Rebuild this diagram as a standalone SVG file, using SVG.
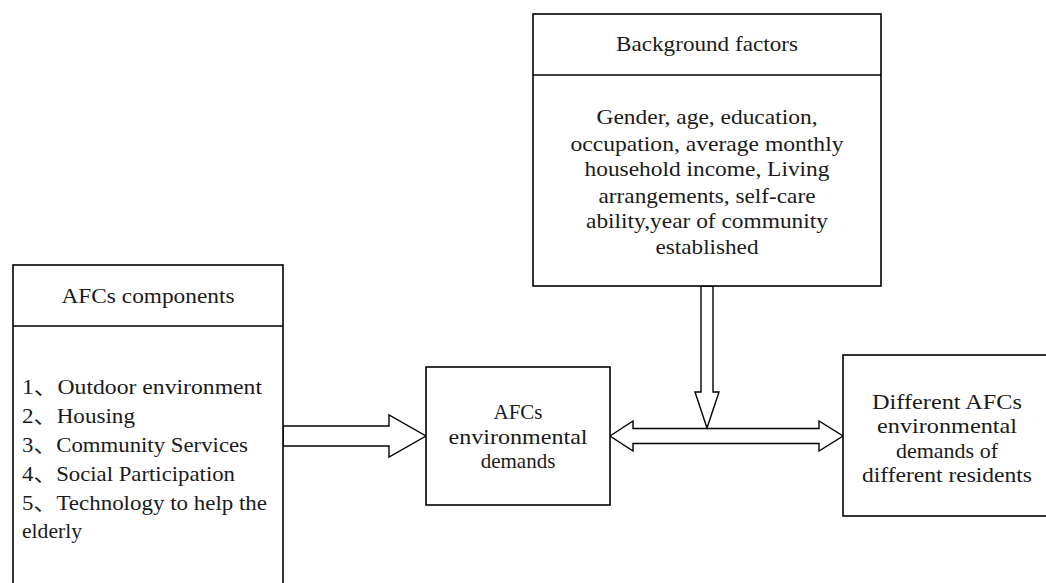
<svg xmlns="http://www.w3.org/2000/svg" width="1046" height="583" viewBox="0 0 1046 583">
<style>
.box{fill:#fff;stroke:#000;stroke-width:1.6}
.div{stroke:#000;stroke-width:1.6}
.arr{fill:#fff;stroke:#000;stroke-width:1.4;stroke-linejoin:miter}
text{font-family:"Liberation Serif","Noto Sans CJK SC",serif;font-size:21px;fill:#1a1a1a}
.c{text-anchor:middle}
</style>
<rect width="1046" height="583" fill="#fff"/>
<g id="connectors">
<polygon class="arr" points="283,426 389,426 389,415 426,436 389,457 389,446 283,446"/>
<polygon class="arr" points="610,436 633,421 633,428.5 819,428.5 819,421 843,436 819,451 819,443.5 633,443.5 633,451"/>
<polygon class="arr" points="701,286 701,392 695,392 707,428 719,392 713,392 713,286"/>
</g>
<g id="background-factors">
<rect class="box" x="533" y="14" width="348" height="272"/>
<line class="div" x1="533" y1="75" x2="881" y2="75"/>
<text class="c" x="707" y="51" textLength="182" lengthAdjust="spacingAndGlyphs">Background factors</text>
<text class="c" x="707" y="124" textLength="221" lengthAdjust="spacingAndGlyphs">Gender, age, education,</text>
<text class="c" x="707" y="151" textLength="273" lengthAdjust="spacingAndGlyphs">occupation, average monthly</text>
<text class="c" x="707" y="176" textLength="245" lengthAdjust="spacingAndGlyphs">household income, Living</text>
<text class="c" x="707" y="203" textLength="217" lengthAdjust="spacingAndGlyphs">arrangements, self-care</text>
<text class="c" x="707" y="228" textLength="242" lengthAdjust="spacingAndGlyphs">ability,year of community</text>
<text class="c" x="707" y="254" textLength="103" lengthAdjust="spacingAndGlyphs">established</text>
</g>
<g id="afcs-components">
<rect class="box" x="13" y="265" width="270" height="330"/>
<line class="div" x1="13" y1="326" x2="283" y2="326"/>
<text class="c" x="148" y="303" textLength="173" lengthAdjust="spacingAndGlyphs">AFCs components</text>
<text x="22" y="394" textLength="240" lengthAdjust="spacingAndGlyphs">1、Outdoor environment</text>
<text x="22" y="423" textLength="113" lengthAdjust="spacingAndGlyphs">2、Housing</text>
<text x="22" y="452" textLength="226" lengthAdjust="spacingAndGlyphs">3、Community Services</text>
<text x="22" y="481" textLength="213" lengthAdjust="spacingAndGlyphs">4、Social Participation</text>
<text x="22" y="510" textLength="245" lengthAdjust="spacingAndGlyphs">5、Technology to help the</text>
<text x="22" y="538" textLength="60" lengthAdjust="spacingAndGlyphs">elderly</text>
</g>
<g id="afcs-demands">
<rect class="box" x="426" y="367" width="184" height="138"/>
<text class="c" x="518" y="419">AFCs</text>
<text class="c" x="518" y="444" textLength="139" lengthAdjust="spacingAndGlyphs">environmental</text>
<text class="c" x="518" y="468">demands</text>
</g>
<g id="different-demands">
<rect class="box" x="843" y="355" width="208" height="161"/>
<text class="c" x="947" y="409" textLength="150" lengthAdjust="spacingAndGlyphs">Different AFCs</text>
<text class="c" x="947" y="433" textLength="140" lengthAdjust="spacingAndGlyphs">environmental</text>
<text class="c" x="947" y="458" textLength="102" lengthAdjust="spacingAndGlyphs">demands of</text>
<text class="c" x="947" y="482" textLength="170" lengthAdjust="spacingAndGlyphs">different residents</text>
</g>
</svg>
